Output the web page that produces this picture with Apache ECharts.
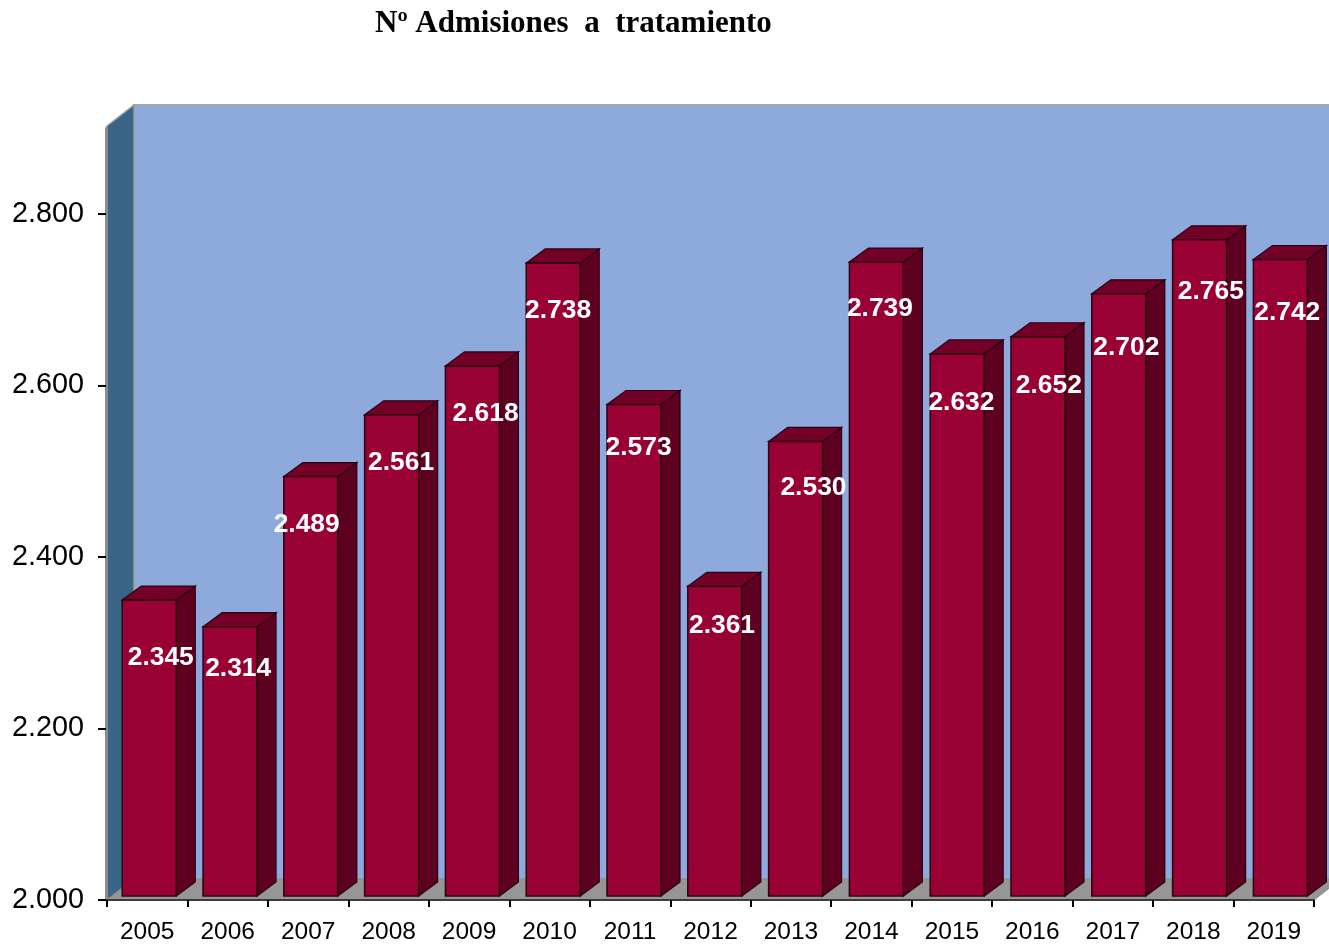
<!DOCTYPE html>
<html>
<head>
<meta charset="utf-8">
<title>Nº Admisiones a tratamiento</title>
<script src="https://cdn.jsdelivr.net/npm/echarts@6/dist/echarts.min.js"></script>
<style>
  html, body { margin: 0; padding: 0; background: #fff; }
  #chart { width: 1329px; height: 944px; }
</style>
</head>
<body>
<div id="chart"></div>
<script>
const years = ['2005', '2006', '2007', '2008', '2009', '2010', '2011', '2012', '2013', '2014', '2015', '2016', '2017', '2018', '2019'];
const admissions = [2345, 2314, 2489, 2561, 2618, 2738, 2573, 2361, 2530, 2739, 2632, 2652, 2702, 2765, 2742];
const yTicks = [2000, 2200, 2400, 2600, 2800];

// the labels in the original sit by hand, nudge from bar centre / bar top
const labelNudgeX = [11, 8, -4, 10, 14, 6, 6, 9, 20, 6, 7, 14, 11, 15, 11];
const labelNudgeY = [58, 42, 48, 48, 48, 48, 43, 39, 46, 47, 49, 49, 54, 52, 53];

const fmt = v => String(v).replace(/\B(?=(\d{3})+$)/g, '.');

const wallDepth = [27, -21];
const barDepth = [19, -14];
const barWidth = 54;
const barShift = [2, -4];
// bars stand a bit further apart than the axis ticks in the original
const barSpread = 0.33;

function renderWalls(params, api) {
  const c = params.coordSys;
  const l = c.x, r = c.x + c.width, t = c.y - 2, b = c.y + c.height;
  const dx = wallDepth[0], dy = wallDepth[1];
  const poly = (points, fill, stroke, w) => ({
    type: 'polygon',
    shape: { points },
    style: { fill, stroke: stroke || fill, lineWidth: w || 0 }
  });
  return {
    type: 'group',
    children: [
      poly([[l + dx, t + dy], [r + dx, t + dy], [r + dx, b + dy], [l + dx, b + dy]], '#8eaadc', '#a6a6a6', 2),
      poly([[l, t], [l + dx, t + dy], [l + dx, b + dy], [l, b]], '#3b6587', '#9c9c9c', 1.5),
      poly([[l, b], [l + dx, b + dy], [r + dx, b + dy], [r, b]], '#969696', '#8a8a8a', 1)
    ]
  };
}

function renderBar(params, api) {
  const i = api.value(0);
  const top = api.coord([i, api.value(1)]);
  const base = api.coord([i, 2000]);
  const x0 = top[0] + barShift[0] + i * barSpread - barWidth / 2;
  const x1 = x0 + barWidth;
  const y0 = top[1] + barShift[1];
  const y1 = base[1] + barShift[1];
  const dx = barDepth[0], dy = barDepth[1];
  const edge = '#2b0012';
  return {
    type: 'group',
    children: [
      { type: 'polygon', shape: { points: [[x1, y0], [x1 + dx, y0 + dy], [x1 + dx, y1 + dy], [x1, y1]] },
        style: { fill: '#5e0020', stroke: edge, lineWidth: 1.2 } },
      { type: 'polygon', shape: { points: [[x0, y0], [x0 + dx, y0 + dy], [x1 + dx, y0 + dy], [x1, y0]] },
        style: { fill: '#730026', stroke: edge, lineWidth: 1.2 } },
      { type: 'rect', shape: { x: x0, y: y0, width: barWidth, height: y1 - y0 },
        style: { fill: '#990033', stroke: edge, lineWidth: 1.5 } },
      { type: 'text', z2: 20,
        style: {
          x: top[0] + barShift[0] + labelNudgeX[i] + 0.5,
          y: y0 + labelNudgeY[i],
          text: fmt(api.value(1)),
          fill: '#fff',
          font: 'bold 26.4px "Liberation Sans", Arial, sans-serif',
          align: 'center',
          verticalAlign: 'middle'
        } }
    ]
  };
}

const myChart = echarts.init(document.getElementById('chart'), null, { renderer: 'canvas' });
myChart.setOption({
  animation: false,
  backgroundColor: '#fff',
  title: {
    text: 'Nº Admisiones  a  tratamiento',
    left: 370,
    top: 3,
    textStyle: {
      fontFamily: '"Liberation Serif", "Times New Roman", serif',
      fontWeight: 'bold',
      fontSize: 31,
      color: '#000'
    }
  },
  grid: { left: 107, top: 128, width: 1207, height: 772, outerBoundsMode: 'none' },
  xAxis: {
    type: 'category',
    data: years,
    z: 5,
    axisLine: { lineStyle: { color: '#3c3c3c', width: 2 } },
    axisTick: { show: true, alignWithLabel: false, length: 7, lineStyle: { color: '#000', width: 2 } },
    axisLabel: {
      margin: 20,
      color: '#000',
      fontSize: 24.5,
      fontFamily: '"Liberation Sans", Arial, sans-serif'
    }
  },
  yAxis: {
    type: 'value',
    min: 2000,
    max: 2900,
    interval: 100,
    offset: 1,
    z: 5,
    splitLine: { show: false },
    axisLine: { show: true, lineStyle: { color: '#8c8c8c', width: 2 } },
    axisTick: { show: true, length: 8, customValues: yTicks, lineStyle: { color: '#000', width: 2 } },
    axisLabel: {
      margin: 22,
      padding: [3, 0, 0, 0],
      color: '#000',
      fontSize: 28.8,
      fontFamily: '"Liberation Sans", Arial, sans-serif',
      customValues: yTicks,
      formatter: fmt
    }
  },
  series: [
    { type: 'custom', name: 'walls', z: 1, silent: true, renderItem: renderWalls, data: [[0, 2000]], encode: { x: 0, y: 1 } },
    { type: 'custom', name: 'Admisiones', z: 3, renderItem: renderBar, data: admissions.map((v, i) => [i, v]), encode: { x: 0, y: 1 } }
  ]
});
</script>
</body>
</html>
